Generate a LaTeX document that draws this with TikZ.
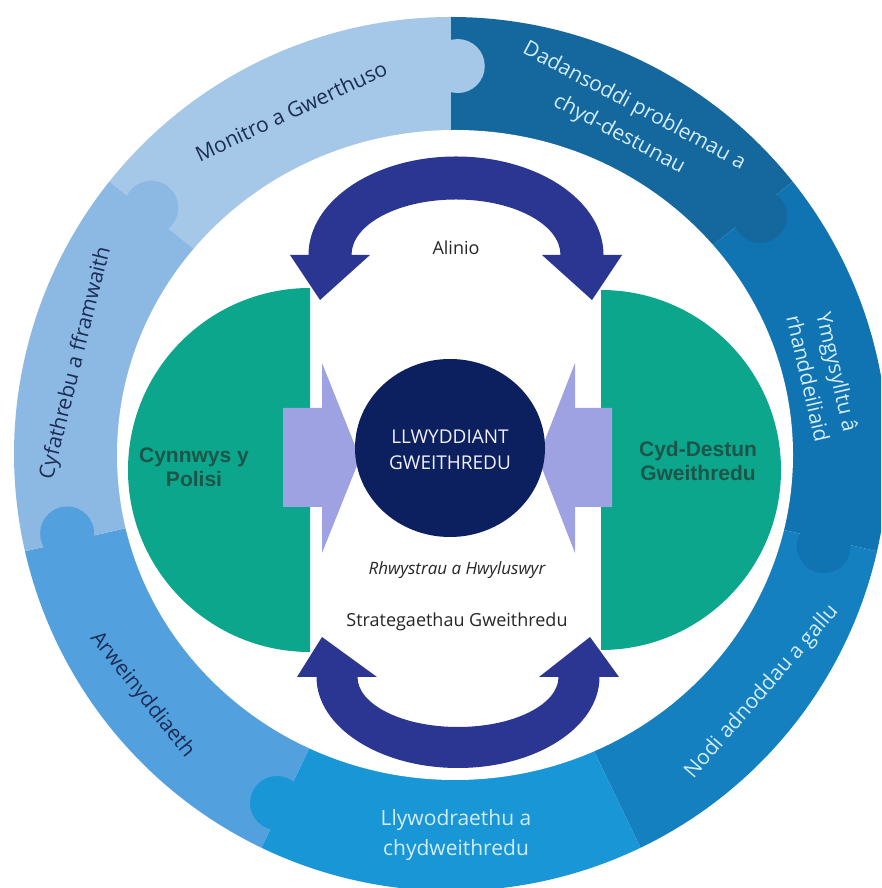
\documentclass[tikz,border=0pt]{standalone}
\usepackage{fontspec}
\setmainfont{Open Sans}
\newfontfamily\arialfont{Liberation Sans}
\usetikzlibrary{calc}
\definecolor{cMon}{HTML}{A5C7E8}
\definecolor{cDad}{HTML}{14689E}
\definecolor{cYmg}{HTML}{1174B2}
\definecolor{cNod}{HTML}{1480C0}
\definecolor{cLly}{HTML}{1896D6}
\definecolor{cArw}{HTML}{52A0DD}
\definecolor{cCyf}{HTML}{8CB8E4}
\definecolor{cDarkT}{HTML}{1B2D55}
\definecolor{cLightT}{HTML}{D3ECFA}
\definecolor{cGreen}{HTML}{0BA68B}
\definecolor{cGreenT}{HTML}{1C5549}
\definecolor{cNavy}{HTML}{0C1F5E}
\definecolor{cIndigo}{HTML}{2B3592}
\definecolor{cLav}{HTML}{9EA2E2}
\definecolor{cGrayT}{HTML}{262626}
\tikzset{
  ringtxt/.style={font=\fontsize{21}{30}\selectfont, align=center, inner sep=0pt},
  darkring/.style={ringtxt, text=cDarkT},
  lightring/.style={ringtxt, text=cLightT},
  midtxt/.style={font=\fontsize{18}{24}\selectfont, text=cGrayT, inner sep=0pt, align=center},
  greentxt/.style={font=\arialfont\bfseries\fontsize{21}{24}\selectfont, text=cGreenT, inner sep=0pt, align=center},
  knob/.style={radius=27}
}
\begin{document}
\begin{tikzpicture}[x=1pt,y=1pt]
\useasboundingbox (0,0) rectangle (881,888);
\clip (0,0) rectangle (881,888);
\coordinate (O) at (451,434);
% ring sectors
\fill[cMon] (O) -- ++(141.43:437) arc[start angle=141.43, end angle=90, radius=437] -- cycle;
\fill[cDad] (O) -- ++(90:437) arc[start angle=90, end angle=38.57, radius=437] -- cycle;
\fill[cYmg] (O) -- ++(38.57:437) arc[start angle=38.57, end angle=-12.86, radius=437] -- cycle;
\fill[cNod] (O) -- ++(-12.86:437) arc[start angle=-12.86, end angle=-64.29, radius=437] -- cycle;
\fill[cLly] (O) -- ++(-64.29:437) arc[start angle=-64.29, end angle=-115.71, radius=437] -- cycle;
\fill[cArw] (O) -- ++(-115.71:437) arc[start angle=-115.71, end angle=-167.14, radius=437] -- cycle;
\fill[cCyf] (O) -- ++(-167.14:437) arc[start angle=-167.14, end angle=-218.57, radius=437] -- cycle;
% puzzle knobs
\fill[cMon] ($(O)+(89:388)$) circle[knob];
\fill[cDad] ($(O)+(37.6:390)$) circle[knob];
\fill[cYmg] ($(O)+(-13.9:384)$) circle[knob];
\fill[cLly] ($(O)+(-116.5:390)$) circle[knob];
\fill[cArw] ($(O)+(-168.3:392)$) circle[knob];
\fill[cCyf] ($(O)+(140.6:388)$) circle[knob];
% inner white area
\fill[white] (455,433) ellipse[x radius=338, y radius=325];
% green half discs
\fill[cGreen] (310,600) arc[start angle=90, end angle=270, radius=182] -- cycle;
\fill[cGreen] (601,598) arc[start angle=90, end angle=-90, radius=180] -- cycle;
% lavender arrows
\fill[cLav] (283,480) -- (322,480) -- (322,525) -- (360,430) -- (322,335) -- (322,381) -- (283,381) -- cycle;
\fill[cLav] (612,480) -- (575,480) -- (575,525) -- (538,430) -- (575,335) -- (575,381) -- (612,381) -- cycle;
% central ellipse
\fill[cNavy] (450,440) ellipse[x radius=95, y radius=89];
% curved arrows
\fill[cIndigo] (308.5,633) arc[start angle=180, end angle=0, x radius=147.5, y radius=98.5]
  -- (622,633) -- (592,588) -- (542,633) -- (560.5,633)
  arc[start angle=0, end angle=180, x radius=104.5, y radius=55.5]
  -- (370,633) -- (320,588) -- (290,633) -- cycle;
\fill[cIndigo] (316.5,211) arc[start angle=180, end angle=360, x radius=141.5, y radius=91]
  -- (619,211) -- (590,251) -- (539,211) -- (558.5,211)
  arc[start angle=360, end angle=180, x radius=100.5, y radius=50]
  -- (377,211) -- (322,251) -- (297,211) -- cycle;
% ring texts
\node[darkring, rotate=25] (mon) at (291,777) {Monitro a Gwerthuso};
\node[lightring, rotate=-28, font=\fontsize{21}{32}\selectfont] (dad) at (626.5,767.5) {Dadansoddi problemau a\\chyd-destunau};
\node[lightring, rotate=-77] (ymg) at (823,513) {Ymgysylltu â\\rhanddeiliaid};
\node[lightring, rotate=49] (nod) at (762,196) {Nodi adnoddau a gallu};
\node[lightring] (lly) at (456,53) {Llywodraethu a\\chydweithredu};
\node[darkring, rotate=-51.5] (arw) at (142,193) {Arweinyddiaeth};
\node[darkring, rotate=76] (cyf) at (76,525) {Cyfathrebu a fframwaith};
% centre texts
\node[midtxt] (ali) at (456,640) {Alinio};
\node[midtxt, text=white!85!cLav, font=\fontsize{19}{26}\selectfont] (llw) at (450,438) {LLWYDDIANT\\GWEITHREDU};
\node[midtxt, font=\itshape\fontsize{17}{20}\selectfont] (rhw) at (457,318) {Rhwystrau a Hwyluswyr};
\node[midtxt] (str) at (457,266) {Strategaethau Gweithredu};
\node[greentxt] (cyn) at (194,421) {Cynnwys y\\Polisi};
\node[greentxt] (cyd) at (698,427) {Cyd-Destun\\Gweithredu};
\end{tikzpicture}
\end{document}
